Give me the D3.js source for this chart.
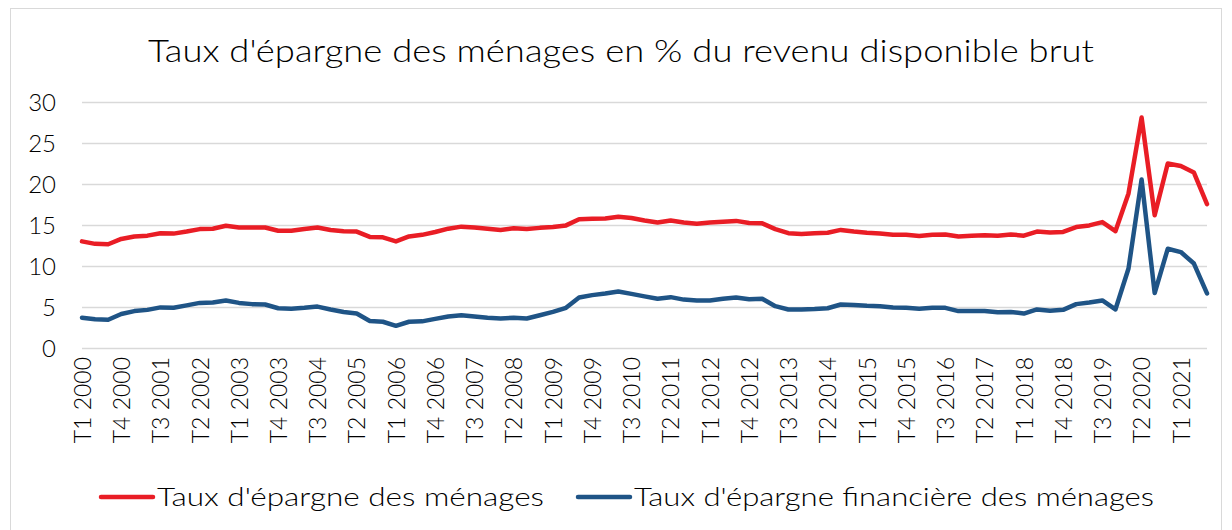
<!DOCTYPE html>
<html>
<head>
<meta charset="utf-8">
<script src="https://cdn.jsdelivr.net/npm/d3@7"></script>
<style>
  body { margin: 0; background: #fff; }
  text { font-family: "Century Gothic", "Lato", sans-serif; fill: #000; font-weight: 300; }
</style>
</head>
<body>
<div id="chart"></div>
<script>
// quarters T1 2000 .. T3 2021
const years = d3.range(2000, 2022);
const quarters = [];
years.forEach(y => [1, 2, 3, 4].forEach(q => quarters.push(`T${q} ${y}`)));
const categories = quarters.slice(0, quarters.indexOf("T3 2021") + 1);

const epargne = [
  13.0, 12.7, 12.65, 13.3, 13.6, 13.7, 14.0, 13.95, 14.2, 14.5, 14.55, 14.9,
  14.7, 14.7, 14.7, 14.3, 14.3, 14.5, 14.7, 14.4, 14.25, 14.2, 13.55, 13.5,
  13.0, 13.6, 13.8, 14.15, 14.55, 14.8, 14.7, 14.55, 14.4, 14.6, 14.5, 14.65,
  14.75, 14.95, 15.7, 15.75, 15.8, 16.0, 15.85, 15.55, 15.3, 15.55, 15.3, 15.15,
  15.3, 15.4, 15.5, 15.25, 15.2, 14.5, 14.0, 13.9, 14.0, 14.05, 14.4, 14.2,
  14.05, 13.95, 13.8, 13.8, 13.65, 13.8, 13.85, 13.6, 13.7, 13.75, 13.7, 13.85,
  13.7, 14.2, 14.1, 14.15, 14.75, 14.95, 15.35, 14.25, 18.85, 28.1, 16.2, 22.5,
  22.2, 21.4, 17.55
];

const epargneFin = [
  3.7, 3.5, 3.45, 4.15, 4.5, 4.65, 4.95, 4.9, 5.2, 5.5, 5.55, 5.8,
  5.5, 5.35, 5.3, 4.85, 4.8, 4.9, 5.05, 4.7, 4.4, 4.2, 3.3, 3.2,
  2.7, 3.2, 3.25, 3.55, 3.85, 4.0, 3.85, 3.7, 3.6, 3.7, 3.6, 4.0,
  4.4, 4.9, 6.15, 6.45, 6.65, 6.9, 6.6, 6.3, 6.0, 6.2, 5.9, 5.8,
  5.8, 6.0, 6.15, 5.95, 6.0, 5.1, 4.7, 4.7, 4.75, 4.85, 5.3, 5.25,
  5.15, 5.1, 4.95, 4.9, 4.8, 4.9, 4.9, 4.5, 4.5, 4.5, 4.35, 4.4,
  4.2, 4.7, 4.55, 4.65, 5.35, 5.55, 5.8, 4.7, 9.7, 20.55, 6.7, 12.1,
  11.7, 10.3, 6.65
];

const yTicks = [0, 5, 10, 15, 20, 25, 30];
const seriesNames = ["Taux d'épargne des ménages", "Taux d'épargne financière des ménages"];
const seriesColors = ["#e91d25", "#1f5486"];
const title = "Taux d'épargne des ménages en % du revenu disponible brut";

const W = 1232, H = 530;
const MARGIN = { LEFT: 82, RIGHT: 25, TOP: 102, BOTTOM: 182 };

const svg = d3.select("#chart").append("svg")
  .attr("width", W)
  .attr("height", H);

// chart frame
svg.append("rect")
  .attr("x", 10.5).attr("y", 8.5)
  .attr("width", 1211).attr("height", 540)
  .attr("fill", "none")
  .attr("stroke", "#d9d9d9")
  .attr("stroke-width", 1);

const x = d3.scalePoint()
  .domain(categories)
  .range([MARGIN.LEFT, W - MARGIN.RIGHT]);

const y = d3.scaleLinear()
  .domain([0, 30])
  .range([H - MARGIN.BOTTOM, MARGIN.TOP]);

// title
svg.append("text")
  .attr("x", 621)
  .attr("y", 62)
  .attr("text-anchor", "middle")
  .attr("font-size", "31px")
  .attr("textLength", 946)
  .attr("lengthAdjust", "spacingAndGlyphs")
  .text(title);

// grid + y labels
const yAxis = d3.axisLeft(y)
  .tickValues(yTicks)
  .tickSize(-(W - MARGIN.RIGHT - MARGIN.LEFT))
  .tickPadding(26)
  .tickFormat(d3.format("d"));

svg.append("g")
  .attr("class", "y axis")
  .attr("transform", `translate(${MARGIN.LEFT}, 0)`)
  .call(yAxis)
  .call(g => g.select(".domain").remove())
  .call(g => g.selectAll(".tick line").attr("stroke", "#d9d9d9").attr("stroke-width", 1.5))
  .call(g => g.selectAll(".tick text")
    .attr("font-size", "24px")
    .attr("font-family", "'Century Gothic', Lato, sans-serif")
    .attr("fill", "#000")
    .attr("dy", "0.36em"));

// x labels
const xAxis = d3.axisBottom(x)
  .tickValues(categories.filter((d, i) => i % 3 === 0))
  .tickSize(0);

svg.append("g")
  .attr("class", "x axis")
  .attr("transform", `translate(0, ${H - MARGIN.BOTTOM})`)
  .call(xAxis)
  .call(g => g.select(".domain").remove())
  .call(g => g.selectAll(".tick text")
    .attr("font-size", "23px")
    .attr("font-family", "'Century Gothic', Lato, sans-serif")
    .attr("fill", "#000")
    .attr("text-anchor", "end")
    .attr("transform", "rotate(-90)")
    .attr("x", -9)
    .attr("y", 0)
    .attr("dy", "0.36em"));

// lines
const line = d3.line()
  .x((d, i) => x(categories[i]))
  .y(d => y(d));

[epargne, epargneFin].forEach((s, k) => {
  svg.append("path")
    .datum(s)
    .attr("fill", "none")
    .attr("stroke", seriesColors[k])
    .attr("stroke-width", 4.5)
    .attr("stroke-linejoin", "round")
    .attr("stroke-linecap", "round")
    .attr("d", line);
});

// legend
const legendX = [101, 578];
const legendW = [387, 520];
seriesNames.forEach((name, k) => {
  const g = svg.append("g").attr("transform", `translate(${legendX[k]}, 497)`);
  g.append("line")
    .attr("x1", 0).attr("x2", 52)
    .attr("y1", 0).attr("y2", 0)
    .attr("stroke", seriesColors[k])
    .attr("stroke-width", 4.5)
    .attr("stroke-linecap", "round");
  g.append("text")
    .attr("x", 56)
    .attr("y", 0)
    .attr("dy", "0.36em")
    .attr("font-size", "25px")
    .attr("textLength", legendW[k])
    .attr("lengthAdjust", "spacingAndGlyphs")
    .text(name);
});
</script>
</body>
</html>
